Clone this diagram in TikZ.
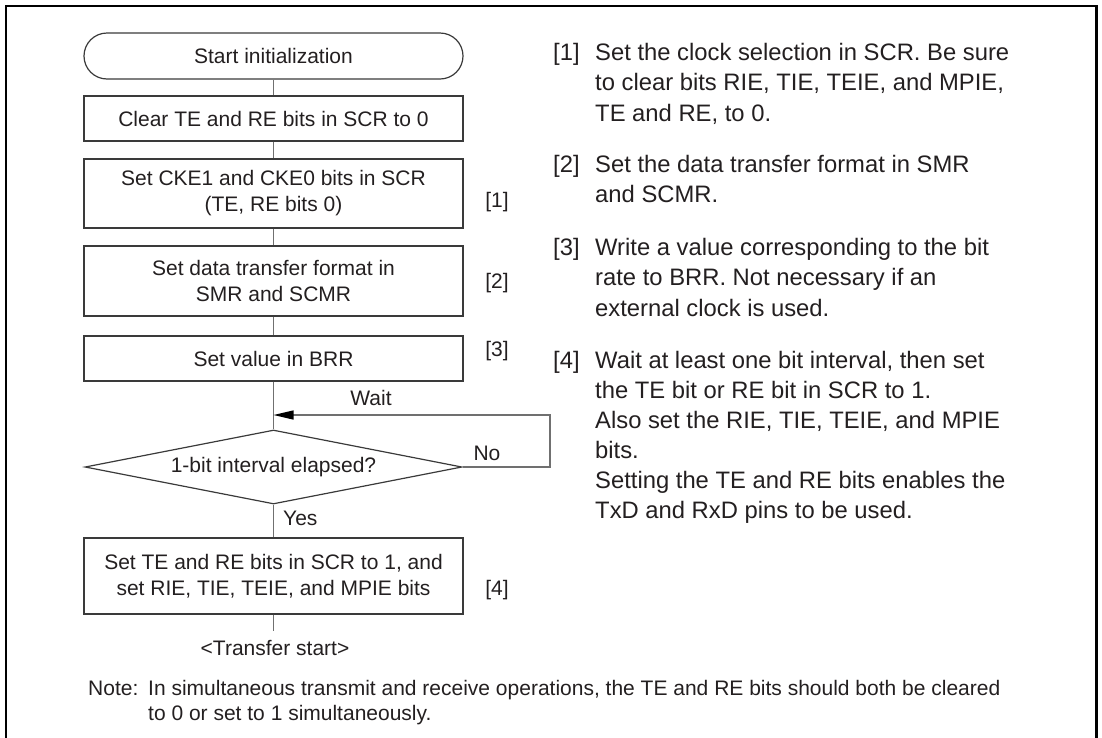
\documentclass[tikz,border=0pt]{standalone}
\usepackage{fontspec}
\setmainfont{Liberation Sans}
\usetikzlibrary{arrows.meta,shapes.geometric}
\definecolor{txtcol}{HTML}{231F20}
\definecolor{boxcol}{HTML}{3A3A3A}
\definecolor{conncol}{HTML}{707070}
\begin{document}
\begin{tikzpicture}[x=1pt,y=-1pt,
  every node/.style={text=txtcol,font=\fontsize{21}{26}\selectfont},
  termbox/.style={draw=boxcol,line width=1.2pt,rounded corners=23pt,minimum width=379pt,minimum height=46pt,inner sep=0pt},
  procbox/.style={draw=boxcol,line width=1.2pt,minimum width=379pt,inner sep=0pt,align=center},
  decision/.style={diamond,shape aspect=5.09,draw=boxcol,line width=1.2pt,minimum width=377pt,minimum height=74pt,inner sep=0pt},
  connector/.style={draw=conncol,line width=1.3pt},
  rline/.style={anchor=base west,inner sep=0pt,font=\fontsize{23.8}{30}\selectfont},
  nline/.style={anchor=base west,inner sep=0pt},
  tag/.style={inner sep=0pt}]
\useasboundingbox (0,0) rectangle (1102,737);
% outer frame (open at the bottom)
\draw[line width=2.3pt,line join=miter] (6,750) -- (6,6) -- (1096.5,6) -- (1096.5,750);

% flowchart nodes
\node[termbox] (start) at (273.5,56) {Start initialization};
\node[procbox,minimum height=45pt] (clear) at (273.5,118.5) {Clear TE and RE bits in SCR to 0};
\node[procbox,minimum height=69pt] (cke) at (273.5,193.5) {Set CKE1 and CKE0 bits in SCR\\(TE, RE bits 0)};
\node[procbox,minimum height=70pt] (fmt) at (273.5,281) {Set data transfer format in\\SMR and SCMR};
\node[procbox,minimum height=45pt] (brr) at (273.5,358.5) {Set value in BRR};
\node[decision] (dec) at (273.5,467) {1-bit interval elapsed?};
\node[procbox,minimum height=76pt] (set) at (273.5,576) {Set TE and RE bits in SCR to 1, and\\set RIE, TIE, TEIE, and MPIE bits};
\coordinate (join) at (273.5,415);
\coordinate (loopc) at (550,415);
\coordinate (xend) at (273.5,631);

% connectors
\draw[connector] (start) -- (clear);
\draw[connector] (clear) -- (cke);
\draw[connector] (cke) -- (fmt);
\draw[connector] (fmt) -- (brr);
\draw[connector] (brr) -- (dec);
\draw[connector] (dec) -- (set);
\draw[connector] (set) -- (xend);
\draw[connector,-{Triangle[length=20pt,width=9pt,color=black]}] (dec.east) -| (loopc) -- (join);

% labels on the flowchart
\node[tag] (wait) at (371,398) {Wait};
\node[tag] (no) at (487,453) {No};
\node[tag,anchor=west] (yes) at (283,518) {Yes};
\node[tag] (xfer) at (275,648) {<Transfer start>};
\node[tag] (s1) at (497,202) {[1]};
\node[tag] (s2) at (497,283) {[2]};
\node[tag] (s3) at (497,351) {[3]};
\node[tag] (s4) at (497,590) {[4]};

% right-hand explanations
\node[rline] (r1n) at (553,60) {[1]};
\node[rline] (r1a) at (595,60) {Set the clock selection in SCR. Be sure};
\node[rline] (r1b) at (595,90.5) {to clear bits RIE, TIE, TEIE, and MPIE,};
\node[rline] (r1c) at (595,121) {TE and RE, to 0.};
\node[rline] (r2n) at (553,172) {[2]};
\node[rline] (r2a) at (595,172) {Set the data transfer format in SMR};
\node[rline] (r2b) at (595,202.5) {and SCMR.};
\node[rline] (r3n) at (553,255) {[3]};
\node[rline] (r3a) at (595,255) {Write a value corresponding to the bit};
\node[rline] (r3b) at (595,285.5) {rate to BRR. Not necessary if an};
\node[rline] (r3c) at (595,316) {external clock is used.};
\node[rline] (r4n) at (553,368) {[4]};
\node[rline] (r4a) at (595,368) {Wait at least one bit interval, then set};
\node[rline] (r4b) at (595,398) {the TE bit or RE bit in SCR to 1.};
\node[rline] (r4c) at (595,428) {Also set the RIE, TIE, TEIE, and MPIE};
\node[rline] (r4d) at (595,458) {bits.};
\node[rline] (r4e) at (595,488) {Setting the TE and RE bits enables the};
\node[rline] (r4f) at (595,518) {TxD and RxD pins to be used.};

% note
\node[nline] (note) at (88,695) {Note:};
\node[nline] (notea) at (148,695) {In simultaneous transmit and receive operations, the TE and RE bits should both be cleared};
\node[nline] (noteb) at (148,720) {to 0 or set to 1 simultaneously.};
\end{tikzpicture}
\end{document}
